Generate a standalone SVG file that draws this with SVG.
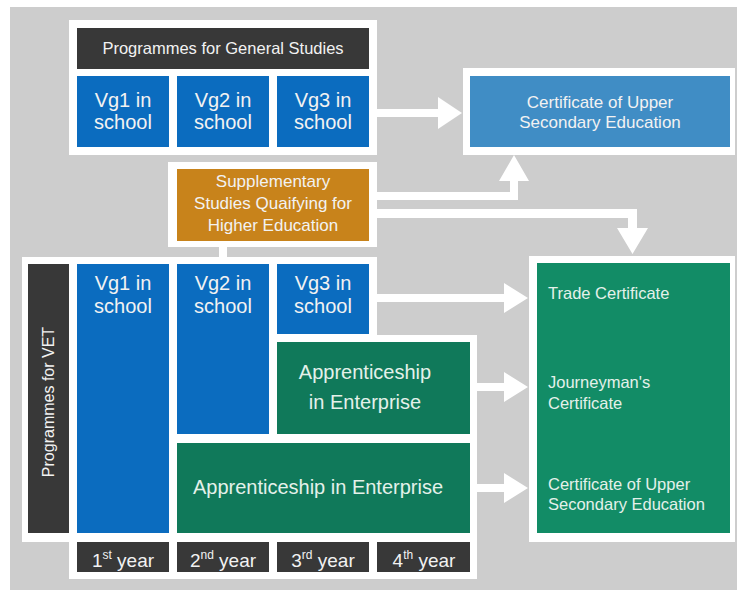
<svg xmlns="http://www.w3.org/2000/svg" width="737" height="590" viewBox="0 0 737 590">
<style>
text{font-family:"Liberation Sans",Arial,sans-serif;fill:#f2f2f2}
.frame{fill:#ffffff}
.dark{fill:#383838}
.blue{fill:#0b6cbf}
.link{fill:#4d89c0}
.green{fill:#10795a}
.gcert{fill:#128c66}
.arrow{fill:#ffffff}
.vg{font-size:20px;text-anchor:middle}
.yr{font-size:19px}
.sup{font-size:12px}
.gt{fill:#e4f1ea}
</style>
<rect x="0" y="0" width="737" height="590" fill="#ffffff"/>
<rect x="10" y="7" width="727" height="583" fill="#cdcdcd"/>

<g id="connectors">
  <rect class="frame" x="219" y="246" width="8" height="12"/>
  <rect class="link" x="169" y="110" width="8" height="6"/>
  <rect class="link" x="269" y="110" width="8" height="6"/>
  <rect class="link" x="169" y="297" width="8" height="6"/>
  <rect class="link" x="269" y="297" width="8" height="6"/>
  <rect class="link" x="269" y="384" width="8" height="6"/>
  <rect class="link" x="169" y="485" width="8" height="6"/>
  <path class="arrow" d="M376,109 H438 V97 L462,113 L438,129 V117 H376 Z"/>
  <path class="arrow" d="M376,192 H510 V181 H499 L514,155 L529,181 H518 V200 H376 Z"/>
  <path class="arrow" d="M376,209 H637 V228 H648 L632.5,254 L617,228 H628 V218 H376 Z"/>
  <path class="arrow" d="M376,294 H504 V283 L528,298 L504,313 V302 H376 Z"/>
  <path class="arrow" d="M476,383 H504 V372 L528,387 L504,402 V391 H476 Z"/>
  <path class="arrow" d="M476,484 H504 V473 L528,488 L504,503 V492 H476 Z"/>
</g>

<g id="general-studies">
  <rect class="frame" x="69" y="20" width="308" height="135"/>
  <rect class="dark" x="77" y="28" width="292" height="41"/>
  <text x="223" y="54" font-size="16.5" text-anchor="middle">Programmes for General Studies</text>
</g>
<g id="gen-vg1">
  <rect class="blue" x="77" y="76" width="92" height="71"/>
  <text class="vg" x="123" y="107">Vg1 in</text>
  <text class="vg" x="123" y="129">school</text>
</g>
<g id="gen-vg2">
  <rect class="blue" x="177" y="76" width="92" height="71"/>
  <text class="vg" x="223" y="107">Vg2 in</text>
  <text class="vg" x="223" y="129">school</text>
</g>
<g id="gen-vg3">
  <rect class="blue" x="277" y="76" width="92" height="71"/>
  <text class="vg" x="323" y="107">Vg3 in</text>
  <text class="vg" x="323" y="129">school</text>
</g>

<g id="cert-upper-secondary-top">
  <rect class="frame" x="463" y="68" width="272" height="87"/>
  <rect x="470" y="76" width="260" height="71" fill="#408dc5"/>
  <text x="600" y="108" font-size="17" text-anchor="middle">Certificate of Upper</text>
  <text x="600" y="128" font-size="17" text-anchor="middle">Secondary Education</text>
</g>

<g id="supplementary">
  <rect class="frame" x="168" y="162" width="209" height="85"/>
  <rect x="177" y="169" width="192" height="72" fill="#c8831b"/>
  <text x="273" y="187" font-size="17" text-anchor="middle">Supplementary</text>
  <text x="273" y="209" font-size="17" text-anchor="middle">Studies Quaifying for</text>
  <text x="273" y="231" font-size="17" text-anchor="middle">Higher Education</text>
</g>

<g id="vet">
  <path class="frame" d="M22,257 H377 V335 H477 V579 H69 V542 H22 Z"/>
  <rect class="dark" x="28" y="264" width="41" height="269"/>
  <text transform="translate(54,402) rotate(-90)" font-size="16" text-anchor="middle">Programmes for VET</text>
</g>
<g id="vet-vg1">
  <rect class="blue" x="77" y="264" width="92" height="269"/>
  <text class="vg" x="123" y="290">Vg1 in</text>
  <text class="vg" x="123" y="313">school</text>
</g>
<g id="vet-vg2">
  <rect class="blue" x="177" y="264" width="92" height="170"/>
  <text class="vg" x="223" y="290">Vg2 in</text>
  <text class="vg" x="223" y="313">school</text>
</g>
<g id="vet-vg3">
  <rect class="blue" x="277" y="264" width="92" height="70"/>
  <text class="vg" x="323" y="290">Vg3 in</text>
  <text class="vg" x="323" y="313">school</text>
</g>
<g id="apprenticeship-1">
  <rect class="green" x="277" y="342" width="193" height="92"/>
  <text class="gt" x="365" y="379" font-size="20" text-anchor="middle">Apprenticeship</text>
  <text class="gt" x="365" y="409" font-size="20" text-anchor="middle">in Enterprise</text>
</g>
<g id="apprenticeship-2">
  <rect class="green" x="177" y="443" width="293" height="90"/>
  <text class="gt" x="318" y="494" font-size="20" text-anchor="middle">Apprenticeship in Enterprise</text>
</g>

<g id="years">
  <rect class="dark" x="77" y="542" width="92" height="30"/>
  <rect class="dark" x="177" y="542" width="92" height="30"/>
  <rect class="dark" x="277" y="542" width="92" height="30"/>
  <rect class="dark" x="377" y="542" width="93" height="30"/>
  <text class="yr" x="123" y="567" text-anchor="middle">1<tspan class="sup" dy="-8">st</tspan><tspan dy="8"> year</tspan></text>
  <text class="yr" x="223" y="567" text-anchor="middle">2<tspan class="sup" dy="-8">nd</tspan><tspan dy="8"> year</tspan></text>
  <text class="yr" x="323" y="567" text-anchor="middle">3<tspan class="sup" dy="-8">rd</tspan><tspan dy="8"> year</tspan></text>
  <text class="yr" x="424" y="567" text-anchor="middle">4<tspan class="sup" dy="-8">th</tspan><tspan dy="8"> year</tspan></text>
</g>

<g id="vet-certificates">
  <rect class="frame" x="529" y="256" width="206" height="286"/>
  <rect class="gcert" x="537" y="263" width="193" height="270"/>
  <text class="gt" x="548" y="299" font-size="16.5">Trade Certificate</text>
  <text class="gt" x="548" y="388" font-size="16.5">Journeyman's</text>
  <text class="gt" x="548" y="409" font-size="16.5">Certificate</text>
  <text class="gt" x="548" y="490" font-size="16.5">Certificate of Upper</text>
  <text class="gt" x="548" y="510" font-size="16.5">Secondary Education</text>
</g>
</svg>
